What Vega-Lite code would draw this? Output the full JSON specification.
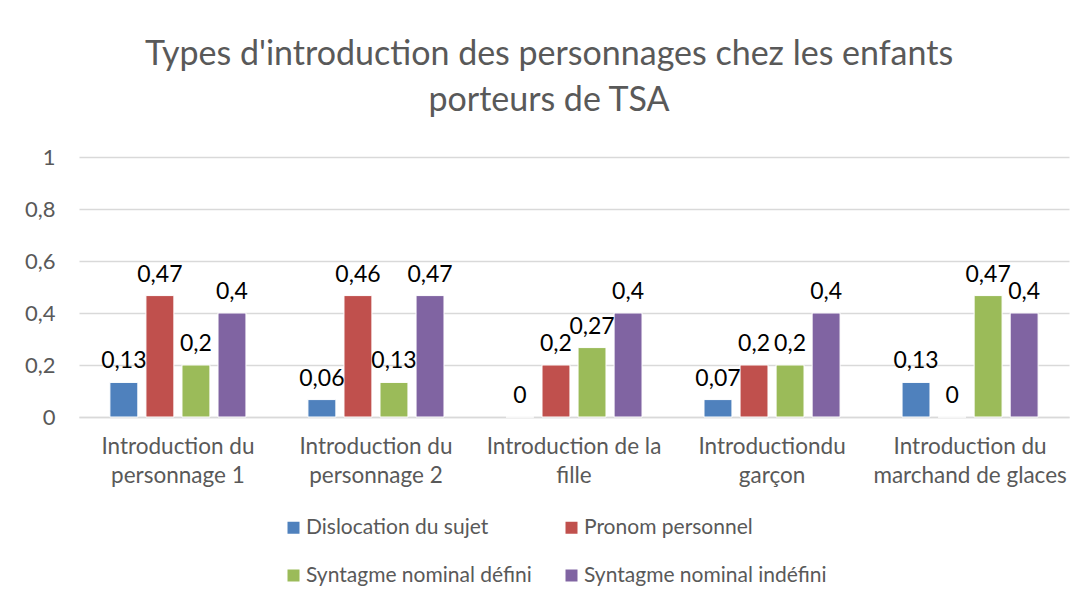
{
  "$schema": "https://vega.github.io/schema/vega-lite/v6.json",
  "width": 990,
  "height": 260,
  "autosize": {"type": "none"},
  "padding": {"left": 79, "top": 157, "right": 7, "bottom": 183},
  "background": "white",
  "title": {
    "text": ["Types d'introduction des personnages chez les enfants", "porteurs de TSA"],
    "anchor": "middle",
    "dx": -25,
    "offset": 28,
    "fontSize": 34,
    "lineHeight": 46,
    "font": "Lato",
    "fontWeight": "normal",
    "color": "#595959"
  },
  "data": {
    "values": [
      {"categorie": "Introduction du|personnage 1", "type": "Dislocation du sujet", "valeur": 0.133, "etiquette": "0,13"},
      {"categorie": "Introduction du|personnage 1", "type": "Pronom personnel", "valeur": 0.467, "etiquette": "0,47"},
      {"categorie": "Introduction du|personnage 1", "type": "Syntagme nominal défini", "valeur": 0.2, "etiquette": "0,2"},
      {"categorie": "Introduction du|personnage 1", "type": "Syntagme nominal indéfini", "valeur": 0.4, "etiquette": "0,4"},
      {"categorie": "Introduction du|personnage 2", "type": "Dislocation du sujet", "valeur": 0.067, "etiquette": "0,06"},
      {"categorie": "Introduction du|personnage 2", "type": "Pronom personnel", "valeur": 0.467, "etiquette": "0,46"},
      {"categorie": "Introduction du|personnage 2", "type": "Syntagme nominal défini", "valeur": 0.133, "etiquette": "0,13"},
      {"categorie": "Introduction du|personnage 2", "type": "Syntagme nominal indéfini", "valeur": 0.467, "etiquette": "0,47"},
      {"categorie": "Introduction de la|fille", "type": "Dislocation du sujet", "valeur": 0, "etiquette": "0"},
      {"categorie": "Introduction de la|fille", "type": "Pronom personnel", "valeur": 0.2, "etiquette": "0,2"},
      {"categorie": "Introduction de la|fille", "type": "Syntagme nominal défini", "valeur": 0.267, "etiquette": "0,27"},
      {"categorie": "Introduction de la|fille", "type": "Syntagme nominal indéfini", "valeur": 0.4, "etiquette": "0,4"},
      {"categorie": "Introductiondu|garçon", "type": "Dislocation du sujet", "valeur": 0.067, "etiquette": "0,07"},
      {"categorie": "Introductiondu|garçon", "type": "Pronom personnel", "valeur": 0.2, "etiquette": "0,2"},
      {"categorie": "Introductiondu|garçon", "type": "Syntagme nominal défini", "valeur": 0.2, "etiquette": "0,2"},
      {"categorie": "Introductiondu|garçon", "type": "Syntagme nominal indéfini", "valeur": 0.4, "etiquette": "0,4"},
      {"categorie": "Introduction du|marchand de glaces", "type": "Dislocation du sujet", "valeur": 0.133, "etiquette": "0,13"},
      {"categorie": "Introduction du|marchand de glaces", "type": "Pronom personnel", "valeur": 0, "etiquette": "0"},
      {"categorie": "Introduction du|marchand de glaces", "type": "Syntagme nominal défini", "valeur": 0.467, "etiquette": "0,47"},
      {"categorie": "Introduction du|marchand de glaces", "type": "Syntagme nominal indéfini", "valeur": 0.4, "etiquette": "0,4"}
    ]
  },
  "encoding": {
    "x": {
      "field": "categorie",
      "type": "nominal",
      "sort": null,
      "scale": {"paddingInner": 0.313, "paddingOuter": 0.156},
      "axis": {
        "title": null,
        "labelAngle": 0,
        "labelExpr": "split(datum.label, '|')",
        "labelFont": "Lato",
        "labelFontSize": 22.5,
        "labelColor": "#595959",
        "labelLineHeight": 29,
        "labelPadding": 18,
        "labelLimit": 300,
        "ticks": false,
        "domain": true,
        "domainColor": "#d9d9d9",
        "domainWidth": 1.5,
        "grid": false
      }
    },
    "xOffset": {
      "field": "type",
      "type": "nominal",
      "sort": null,
      "scale": {"paddingInner": 0.225, "paddingOuter": 0}
    },
    "y": {
      "field": "valeur",
      "type": "quantitative",
      "scale": {"domain": [0, 1]},
      "axis": {
        "title": null,
        "values": [0, 0.2, 0.4, 0.6, 0.8, 1],
        "format": "~g",
        "labelExpr": "replace(datum.label, '.', ',')",
        "labelFont": "Lato",
        "labelFontSize": 22,
        "labelColor": "#595959",
        "labelPadding": 24,
        "ticks": false,
        "domain": false,
        "grid": true,
        "gridColor": "#d9d9d9",
        "gridWidth": 1.5
      }
    }
  },
  "layer": [
    {
      "mark": {"type": "bar", "stroke": "white", "strokeWidth": 1},
      "encoding": {
        "color": {
          "field": "type",
          "type": "nominal",
          "sort": null,
          "scale": {
            "domain": ["Dislocation du sujet", "Pronom personnel", "Syntagme nominal défini", "Syntagme nominal indéfini"],
            "range": ["#4F81BD", "#C0504D", "#9BBB59", "#8064A2"]
          },
          "legend": {
            "title": null,
            "orient": "none",
            "legendX": 204,
            "legendY": 360,
            "direction": "horizontal",
            "columns": 2,
            "gridAlign": "all",
            "columnPadding": 12,
            "rowPadding": 26,
            "symbolType": "square",
            "symbolSize": 144,
            "symbolStrokeWidth": 0,
            "labelFont": "Lato",
            "labelFontSize": 21,
            "labelColor": "#595959",
            "labelOffset": 2,
            "labelLimit": 400
          }
        }
      }
    },
    {
      "mark": {"type": "text", "baseline": "bottom", "dy": -9, "font": "Lato", "fontSize": 23, "color": "black"},
      "encoding": {
        "text": {"field": "etiquette"}
      }
    }
  ],
  "config": {"view": {"stroke": null}}
}
